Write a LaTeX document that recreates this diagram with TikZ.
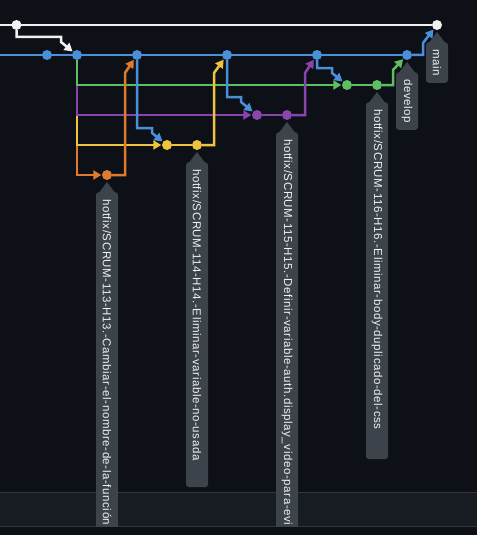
\documentclass[tikz,border=0pt]{standalone}
\usepackage{fontspec}
\usetikzlibrary{arrows.meta}
\newfontfamily\tagfont[LetterSpace=5]{Liberation Sans}
\definecolor{bgdark}{HTML}{0D1117}
\definecolor{stripfill}{HTML}{171B22}
\definecolor{stripline}{HTML}{30363D}
\definecolor{lanewhite}{HTML}{F0F0F0}
\definecolor{laneblue}{HTML}{4A90D9}
\definecolor{lanegreen}{HTML}{5CBF62}
\definecolor{lanepurple}{HTML}{8A44AD}
\definecolor{laneyellow}{HTML}{F0C33C}
\definecolor{laneorange}{HTML}{E07B2D}
\definecolor{tagfill}{HTML}{3D434B}
\definecolor{tagtext}{HTML}{F2F3F5}
\pgfdeclarelayer{backdrop}
\pgfdeclarelayer{lanes}
\pgfsetlayers{backdrop,lanes,main}
\tikzset{
  lane/.style={draw=#1, line width=2.5pt},
  link/.style={draw=#1, line width=2.5pt, -{Triangle[length=8pt,width=9pt]}, shorten >=0.5pt},
  commit/.style={circle, fill=#1, inner sep=0pt, minimum size=10pt},
  tag/.style={rotate=-90, anchor=west, fill=tagfill, rounded corners=3pt, text=tagtext,
    font={\tagfont\fontsize{11.5}{13}\selectfont}, inner xsep=7pt, inner ysep=0pt, minimum height=22pt}
}
\newcommand{\tagpointer}[1]{\fill[tagfill] ([xshift=-9pt,yshift=-2pt]#1.west) -- ([yshift=10pt]#1.west) -- ([xshift=9pt,yshift=-2pt]#1.west) -- cycle;}
\begin{document}
\begin{tikzpicture}[x=1pt,y=-1pt]
\useasboundingbox (0,0) rectangle (477,535);
\begin{pgfonlayer}{backdrop}
\fill[bgdark] (0,0) rectangle (477,535);
\fill[stripfill] (0,492) rectangle (477,526);
\draw[stripline] (0,492) -- (477,492);
\draw[stripline] (0,526) -- (477,526);
\end{pgfonlayer}
%commits
\coordinate (wedge) at (0,25);
\coordinate (bedge) at (0,55);
\node[commit=lanewhite] (w0) at (16.5,25) {};
\node[commit=lanewhite] (wmain) at (437,25) {};
\node[commit=laneblue] (b1) at (47,55) {};
\node[commit=laneblue] (b2) at (77,55) {};
\node[commit=laneblue] (b3) at (137,55) {};
\node[commit=laneblue] (b4) at (227,55) {};
\node[commit=laneblue] (b5) at (317,55) {};
\node[commit=laneblue] (b6) at (407,55) {};
\node[commit=lanegreen] (g1) at (347,85) {};
\node[commit=lanegreen] (g2) at (377,85) {};
\node[commit=lanepurple] (p1) at (257,115) {};
\node[commit=lanepurple] (p2) at (287,115) {};
\node[commit=laneyellow] (y1) at (167,145) {};
\node[commit=laneyellow] (y2) at (197,145) {};
\node[commit=laneorange] (o1) at (107,175) {};
%lanes
\begin{pgfonlayer}{lanes}
\draw[lane=lanewhite] (wedge) -- (wmain);
\draw[lane=laneblue] (bedge) -- (b6);
\draw[link=lanewhite] (w0) -- ++(0,12) -- ++(44.5,0) -- ++(0,5) -- (b2);
\draw[link=laneorange] (b2) |- (o1);
\draw[link=laneyellow] (b2) |- (y1);
\draw[link=lanepurple] (b2) |- (p1);
\draw[link=lanegreen] (b2) |- (g1);
\draw[link=laneorange] (o1) -- ++(18,0) -- ++(0,-102) -- (b3);
\draw[link=laneblue] (b3) -- ++(0,73) -- ++(15,0) -- ++(0,5) -- (y1);
\draw[lane=laneyellow] (y1) -- (y2);
\draw[link=laneyellow] (y2) -- ++(17,0) -- ++(0,-72) -- (b4);
\draw[link=laneblue] (b4) -- ++(0,42) -- ++(14,0) -- ++(0,5) -- (p1);
\draw[lane=lanepurple] (p1) -- (p2);
\draw[link=lanepurple] (p2) -- ++(18,0) -- ++(0,-42) -- (b5);
\draw[link=laneblue] (b5) -- ++(0,13) -- ++(15,0) -- ++(0,5) -- (g1);
\draw[lane=lanegreen] (g1) -- (g2);
\draw[link=lanegreen] (g2) -- ++(16,0) -- ++(0,-15) -- (b6);
\draw[link=laneblue] (b6) -- ++(16,0) -- ++(0,-12) -- (wmain);
\end{pgfonlayer}
%tags
\begin{scope}
\clip (0,0) rectangle (477,526);
\node[tag, text width=345pt, align=left] (t113) at ([yshift=-17pt]o1.center) {\mbox{hotfix/SCRUM-113-H13.-Cambiar-el-nombre-de-la-función}};
\tagpointer{t113}
\node[tag, text width=311pt, align=left] (t114) at ([yshift=-17pt]y2.center) {\mbox{hotfix/SCRUM-114-H14.-Eliminar-variable-no-usada}};
\tagpointer{t114}
\node[tag, text width=400pt, align=left] (t115) at ([yshift=-17pt]p2.center) {\mbox{hotfix/SCRUM-115-H15.-Definir-variable-auth.display\_video-para-evi}};
\tagpointer{t115}
\node[tag, text width=343pt, align=left] (t116) at ([yshift=-17pt]g2.center) {\mbox{hotfix/SCRUM-116-H16.-Eliminar-body-duplicado-del-css}};
\tagpointer{t116}
\node[tag] (tdev) at ([yshift=-17pt]b6.center) {develop};
\tagpointer{tdev}
\node[tag] (tmain) at ([yshift=-17pt]wmain.center) {main};
\tagpointer{tmain}
\end{scope}
\end{tikzpicture}
\end{document}
